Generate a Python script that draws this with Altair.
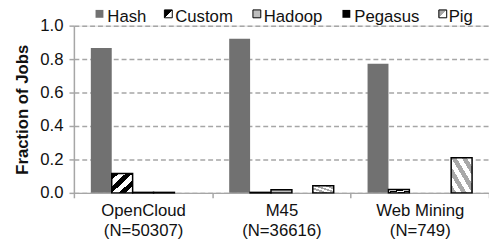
import altair as alt
import pandas as pd

# ---- data ----
categories = ["OpenCloud", "M45", "Web Mining"]
job_counts = ["(N=50307)", "(N=36616)", "(N=749)"]
series = ["Hash", "Custom", "Hadoop", "Pegasus", "Pig"]
hash_vals = [0.866, 0.922, 0.772]
custom_vals = [0.116, 0.003, 0.020]
hadoop_vals = [0.003, 0.019, None]
pegasus_vals = [0.003, None, None]
pig_vals = [None, 0.043, 0.210]
y_ticks = [0.0, 0.2, 0.4, 0.6, 0.8, 1.0]

values_by_series = {
    "Hash": hash_vals,
    "Custom": custom_vals,
    "Hadoop": hadoop_vals,
    "Pegasus": pegasus_vals,
    "Pig": pig_vals,
}
labels = [f"{c}|{n}" for c, n in zip(categories, job_counts)]
rows = []
for s in series:
    for lab, v in zip(labels, values_by_series[s]):
        if v is not None:
            rows.append({"label": lab, "series": s, "value": v})
df = pd.DataFrame(rows)

FONT = "Liberation Sans"
GRAY_AX = "#a6a6a6"


def stripes(c1, c2, n, x1, y1, x2, y2, frac=0.5):
    stops = []
    for k in range(n):
        a = k / n
        b = a + frac / n
        c = (k + 1) / n
        stops += [
            alt.GradientStop(color=c1, offset=a),
            alt.GradientStop(color=c1, offset=b),
            alt.GradientStop(color=c2, offset=b),
            alt.GradientStop(color=c2, offset=c),
        ]
    return alt.LinearGradient(gradient="linear", stops=stops, x1=x1, y1=y1, x2=x2, y2=y2)


styles = {
    "Hash": dict(fill="#717171"),
    "Custom": dict(fill=stripes("#000000", "#ffffff", 3, 0, 0, 1, 1), stroke="#000", strokeWidth=1.5),
    "Hadoop": dict(fill="#bdbdbd", stroke="#000", strokeWidth=1.5),
    "Pegasus": dict(fill="#000000", stroke="#000", strokeWidth=1.5),
    "Pig": dict(fill=stripes("#a8a8a8", "#ffffff", 4, 0, 1, 1, 0), stroke="#000", strokeWidth=1.5),
}
legend_styles = {
    "Hash": dict(fill="#717171"),
    "Custom": dict(fill=stripes("#000000", "#ffffff", 1, 0, 0, 1, 1, frac=0.55), stroke="#000", strokeWidth=1),
    "Hadoop": dict(fill="#bdbdbd", stroke="#000", strokeWidth=1),
    "Pegasus": dict(fill="#000000"),
    "Pig": dict(fill=stripes("#a8a8a8", "#ffffff", 1, 0, 0, 1, 1, frac=0.5), stroke="#000", strokeWidth=1),
}
legend_sq_x = [22, 92, 182, 273, 371]
legend_tx_x = [34, 103, 193, 285, 381]

x_enc = alt.X(
    "label:N",
    scale=alt.Scale(domain=labels, paddingInner=0, paddingOuter=0),
    axis=alt.Axis(
        title=None, labelExpr="split(datum.label, '|')", labelFontSize=17,
        labelLineHeight=20, labelColor="#111", labelFont=FONT, labelAngle=0,
        domainColor=GRAY_AX, domainWidth=1.5, tickColor=GRAY_AX, tickWidth=1.5,
        tickSize=5, tickBand="extent", labelPadding=5, grid=False,
    ),
)
xoff_enc = alt.XOffset("series:N", scale=alt.Scale(domain=series, paddingInner=0, paddingOuter=0.81))
y_enc = alt.Y(
    "value:Q",
    scale=alt.Scale(domain=[0, 1], nice=False),
    axis=alt.Axis(
        values=y_ticks, format=".1f", title="Fraction of Jobs", titleFontSize=17,
        titleFontWeight="bold", titleFont=FONT, titleColor="#111", titlePadding=9,
        labelFontSize=17, labelFont=FONT, labelColor="#111", labelPadding=6,
        gridDash=[5, 3], gridColor=GRAY_AX, gridWidth=1.5,
        domainColor=GRAY_AX, domainWidth=1.5, tickColor=GRAY_AX, tickWidth=1.5, tickSize=5,
    ),
)

layers = []
for s in series:
    layers.append(
        alt.Chart(df)
        .transform_filter(alt.datum.series == s)
        .mark_bar(**styles[s])
        .encode(x=x_enc, xOffset=xoff_enc, y=y_enc)
    )

one = pd.DataFrame({"k": [0]})
for s, sx, tx in zip(series, legend_sq_x, legend_tx_x):
    layers.append(
        alt.Chart(one).mark_rect(**legend_styles[s]).encode(
            x=alt.value(sx), x2=alt.value(sx + 8), y=alt.value(-16), y2=alt.value(-8)
        )
    )
    layers.append(
        alt.Chart(one).mark_text(
            text=s, align="left", baseline="alphabetic", fontSize=17, font=FONT, color="#111"
        ).encode(x=alt.value(tx), y=alt.value(-4))
    )

chart = (
    alt.layer(*layers)
    .properties(
        width=422, height=170,
        autosize=alt.AutoSizeParams(type="none"),
        padding={"left": 67, "top": 16, "right": 0, "bottom": 48},
    )
    .configure_view(stroke=None)
    .configure(background="white")
)

chart.save("out.html", embed_options={"renderer": "svg", "actions": False})
